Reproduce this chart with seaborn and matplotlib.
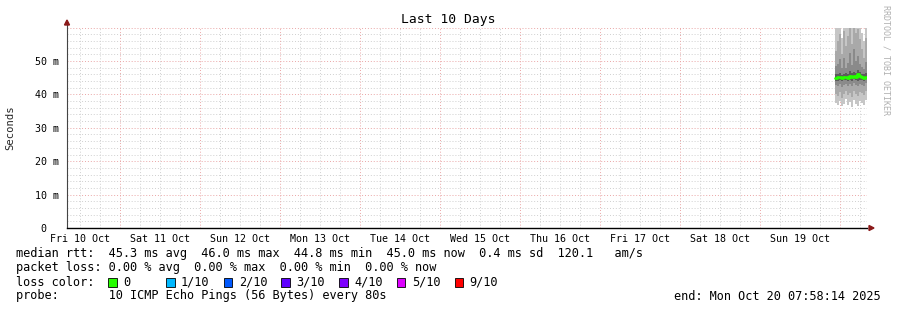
import matplotlib
matplotlib.use("Agg")
import matplotlib.pyplot as plt
from matplotlib.patches import Rectangle, Polygon
import numpy as np
import pandas as pd
import seaborn as sns
from datetime import datetime, timedelta

# ---------------- data ----------------
title = "Last 10 Days"
end_time = datetime(2025, 10, 20, 7, 58, 14)
span_days = 10
first_sample = datetime(2025, 10, 19, 22, 20)
step_minutes = 36

# sorted ping round-trip times (ms) per sample column, 10 pings each
pings = [
    [37.5, 40.2, 42.8, 44.0, 44.8, 45.2, 46.0, 48.5, 53.0, 61.0],
    [36.8, 39.5, 42.5, 44.1, 44.9, 45.3, 46.2, 49.0, 56.0, 62.0],
    [38.0, 40.8, 43.0, 44.3, 45.0, 45.4, 46.5, 50.5, 58.0, 61.5],
    [36.5, 39.0, 42.2, 43.9, 44.7, 45.1, 45.9, 47.8, 52.0, 57.0],
    [37.2, 40.0, 42.9, 44.2, 44.9, 45.3, 46.1, 51.0, 59.0, 62.0],
    [38.5, 41.0, 43.2, 44.4, 45.0, 45.5, 46.4, 48.0, 54.5, 60.5],
    [36.9, 39.8, 42.6, 44.0, 44.8, 45.2, 46.0, 49.5, 57.5, 61.8],
    [37.8, 40.5, 43.1, 44.3, 45.1, 45.6, 47.0, 52.5, 60.0, 63.0],
    [36.3, 39.2, 42.4, 44.1, 44.9, 45.4, 46.3, 48.8, 55.0, 61.0],
    [38.2, 40.9, 43.3, 44.5, 45.2, 45.7, 46.8, 53.5, 60.5, 62.5],
    [37.0, 40.1, 42.7, 44.2, 45.0, 45.5, 46.4, 50.0, 58.5, 61.5],
    [36.6, 39.6, 42.5, 44.0, 44.9, 45.9, 47.2, 51.5, 59.5, 63.0],
    [38.0, 40.6, 43.0, 44.4, 45.1, 45.6, 46.6, 49.2, 56.5, 62.0],
    [37.4, 40.3, 42.9, 44.3, 45.0, 45.5, 46.2, 48.2, 53.5, 58.5],
    [36.8, 39.9, 42.6, 44.1, 44.8, 45.2, 46.0, 47.5, 51.0, 56.0],
    [38.3, 41.1, 43.4, 44.5, 45.1, 45.6, 46.5, 49.8, 57.0, 61.0],
]
median_ms = [45.0, 45.1, 45.2, 44.8, 45.1, 45.3, 45.0, 45.4, 45.2, 45.6, 45.3,
             46.0, 45.4, 45.2, 45.0, 45.3]

y_ticks = [0, 10, 20, 30, 40, 50]
y_tick_labels = ["0  ", "10 m", "20 m", "30 m", "40 m", "50 m"]
y_max = 60

legend_rows = [
    "median rtt:  45.3 ms avg  46.0 ms max  44.8 ms min  45.0 ms now  0.4 ms sd  120.1   am/s",
    "packet loss: 0.00 % avg  0.00 % max  0.00 % min  0.00 % now",
    "loss color:",
    "probe:       10 ICMP Echo Pings (56 Bytes) every 80s",
]
loss_labels = ["0", "1/10", "2/10", "3/10", "4/10", "5/10", "9/10"]
loss_colors = ["#26ff00", "#00b8ff", "#0059ff", "#5e00ff", "#7e00ff", "#dd00ff", "#ff0000"]
end_label = "end: Mon Oct 20 07:58:14 2025"
credit = "RRDTOOL / TOBI OETIKER"

# ---------------- figure ----------------
sns.set_theme(style="white")
plt.rcParams["font.family"] = ["DejaVu Sans Mono", "DejaVu Sans"]
W, H = 897, 310
fig = plt.figure(figsize=(W / 100, H / 100), dpi=100)
fig.patch.set_facecolor("white")

left_px, right_px, top_px, bot_px = 67, 867, 27.6, 228
ax = fig.add_axes([left_px / W, 1 - bot_px / H, (right_px - left_px) / W, (bot_px - top_px) / H])
ax.set_facecolor("white")

start_time = end_time - timedelta(days=span_days)
times = [first_sample + timedelta(minutes=step_minutes * i) for i in range(len(pings))]
edges = times + [times[-1] + timedelta(minutes=step_minutes)]
P = np.array(pings)

# smoke: bands between consecutive sorted pings, darker toward the centre
shades = ["#2e2e2e", "#5c5c5c", "#8a8a8a", "#a9a9a9", "#c6c6c6"]
n = P.shape[1]
centre = (n - 2) / 2.0
for i in range(n - 1):
    lo = np.append(P[:, i], P[-1, i])
    hi = np.append(P[:, i + 1], P[-1, i + 1])
    d = int(round(abs(i - centre) + 0.01))
    col = shades[min(d, len(shades) - 1)]
    ax.fill_between(edges, lo, hi, step="post", color=col, linewidth=0, zorder=2)

# median line (green = 0 loss)
med_times, med_vals = [], []
for t, m in zip(times, median_ms):
    med_times += [t, t + timedelta(minutes=step_minutes)]
    med_vals += [m, m]
df = pd.DataFrame({"time": med_times, "median": med_vals})
sns.lineplot(data=df, x="time", y="median", ax=ax, color=loss_colors[0],
             linewidth=2.0, zorder=4, legend=False, estimator=None, sort=False)

ax.set_xlim(start_time, end_time)
ax.set_ylim(0, y_max)

# grids
minor_col, major_col = "#cfcfcf", "#eaa6a6"
dots = (0, (1, 2))
for v in np.arange(2, y_max + 0.1, 2):
    if v % 10 == 0:
        ax.axhline(v, color=major_col, lw=0.7, ls=dots, zorder=1)
    else:
        ax.axhline(v, color=minor_col, lw=0.7, ls=dots, zorder=1)
t = datetime(2025, 10, 10, 12, 0)
while t < end_time:
    if t > start_time:
        if t.hour == 0:
            ax.axvline(t, color=major_col, lw=0.7, ls=dots, zorder=1)
        else:
            ax.axvline(t, color=minor_col, lw=0.7, ls=dots, zorder=1)
    t += timedelta(hours=6)

# ticks
ax.set_yticks(y_ticks)
ax.set_yticklabels(y_tick_labels)
ax.set_yticks(np.arange(0, y_max + 0.1, 2), minor=True)
noons = [datetime(2025, 10, 10, 12) + timedelta(days=k) for k in range(10)]
ax.set_xticks(noons)
ax.set_xticklabels([d.strftime("%a %d Oct") for d in noons])
ax.tick_params(axis="both", which="major", labelsize=7.2, colors="black", length=0)
ax.tick_params(axis="x", which="major", pad=4.5)
ax.tick_params(axis="y", which="major", pad=6)
ax.tick_params(axis="y", which="minor", length=2, width=0.6, color="#555555", direction="out")
ax.set_xlabel("")
ax.set_ylabel("Seconds", fontsize=7.6, labelpad=14)

for s in ["top", "right"]:
    ax.spines[s].set_visible(False)
ax.spines["left"].set_color("#444444")
ax.spines["left"].set_linewidth(0.8)
ax.spines["bottom"].set_color("black")
ax.spines["bottom"].set_linewidth(1.0)
ax.spines["left"].set_bounds(0, y_max + 1.5)
ax.spines["left"].set_zorder(5)
ax.spines["bottom"].set_zorder(5)

# arrow heads (figure pixel coords)
def px(x, y):
    return (x / W, 1 - y / H)
arrow_col = "#8b1a1a"
fig.patches.append(Polygon([px(64.5, 25), px(69.5, 25), px(67, 20)], closed=True,
                           transform=fig.transFigure, color=arrow_col))
fig.patches.append(Polygon([px(869, 225.5), px(869, 230.5), px(874, 228)], closed=True,
                           transform=fig.transFigure, color=arrow_col))

# title
fig.text(448 / W, 1 - 19 / H, title, ha="center", va="center", fontsize=9.4, color="black")

# credit
fig.text(886 / W, 1 - 60 / H, credit, rotation=-90, ha="center", va="center",
         fontsize=6.0, color="#b0b0b0")

# legend
fs = 8.52
row_y = [254, 268, 282, 296]
for txt, yy in zip(legend_rows, row_y):
    fig.text(16 / W, 1 - yy / H, txt, ha="left", va="center", fontsize=fs, color="black")
sw_x0, sw_dx = 108.3, 57.7
for k, (lab, colr) in enumerate(zip(loss_labels, loss_colors)):
    x0 = sw_x0 + k * sw_dx
    fig.patches.append(Rectangle(px(x0, 286.5), 8.5 / W, 8.5 / H, transform=fig.transFigure,
                                 facecolor=colr, edgecolor="black", linewidth=0.6))
    fig.text((x0 + 15) / W, 1 - 282 / H, lab, ha="left", va="center", fontsize=fs, color="black")
fig.text(881 / W, 1 - 296 / H, end_label, ha="right", va="center", fontsize=fs, color="black")

fig.savefig("out.png", dpi=100, facecolor="white")
